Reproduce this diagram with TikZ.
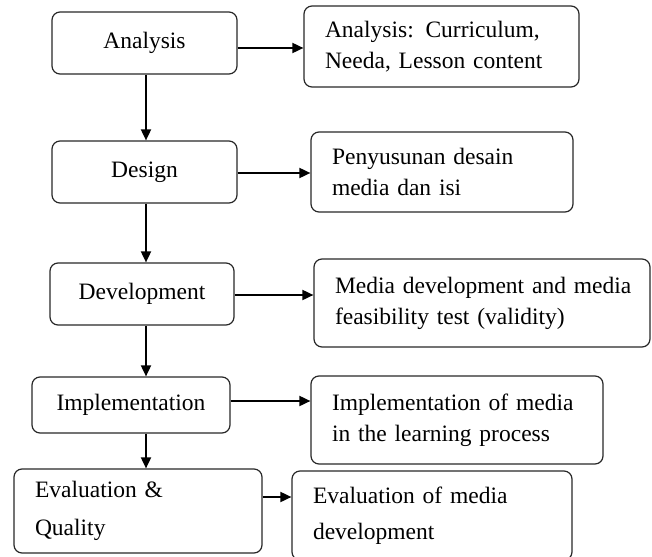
\documentclass[tikz,border=0pt]{standalone}
\usepackage{fontspec}
\setmainfont{Liberation Serif}
\usepackage{tikz}
\usetikzlibrary{arrows.meta, positioning}
\definecolor{boxgray}{RGB}{40,40,40}

\begin{document}
\begin{tikzpicture}[x=1pt, y=-1pt,
    stage/.style={draw=boxgray, line width=1.2pt, rounded corners=8pt, align=center, inner sep=0pt,
        font=\fontsize{23.5}{30}\selectfont},
    note/.style={draw=boxgray, line width=1.2pt, rounded corners=8pt, align=left, inner xsep=21pt, inner ysep=0pt,
        font=\fontsize{23.5}{31}\selectfont},
    flow/.style={-{Triangle[length=11pt,width=10pt]}, line width=1.8pt}]
        \path[use as bounding box] (0,0) rectangle (652,556);
        \clip (0,0) rectangle (652,556);

        % ADDIE stages
        \node[stage, minimum width=185, minimum height=62] (analysis) at (144.5,43) {Analysis};
        \node[stage, minimum width=185, minimum height=62] (design) at (144.5,172) {Design};
        \node[stage, minimum width=184, minimum height=62] (develop) at (142,294) {Development};
        \node[stage, minimum width=198, minimum height=56] (implement) at (131,405) {Implementation};
        \node[note, text width=206, minimum height=84, font=\fontsize{23.5}{38}\selectfont] (evaluate) at (138,511)
            {Evaluation \&\\ Quality};
        \coordinate (spine) at (146,0);

        % Outputs of each stage
        \node[note, text width=233, minimum height=81] (analysisnote) at (441.5,46.5)
            {Analysis: Curriculum,\\ Needa, Lesson content};
        \node[note, text width=220, minimum height=80] (designnote) at (442,172)
            {Penyusunan desain\\ media dan isi};
        \node[note, text width=294, minimum height=88] (developnote) at (482,303)
            {\mbox{Media development and media}\\ feasibility test (validity)};
        \node[note, text width=250, minimum height=88] (implementnote) at (457,420)
            {Implementation of media\\ in the learning process};
        \node[note, text width=238, minimum height=89, font=\fontsize{23.5}{36}\selectfont] (evaluatenote) at (432,515.5)
            {Evaluation of media\\ development};

        % Arrows
        \foreach \a/\b in {analysis/design, design/develop, develop/implement, implement/evaluate} {
            \draw[flow] (\a.south -| spine) -- (\b.north -| spine);
        }
        \foreach \s/\d in {analysis/-5, design/-1, develop/-1, implement/4, evaluate/14} {
            \draw[flow] ([yshift=\d pt]\s.east) -- ([yshift=\d pt]\s.east -| \s note.west);
        }
    \end{tikzpicture}
\end{document}
